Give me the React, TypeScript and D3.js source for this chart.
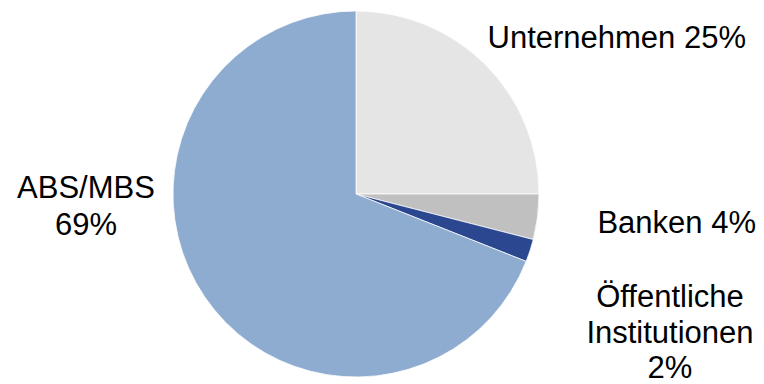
import React from "react";
import * as d3 from "d3";

const categories = ["Unternehmen", "Banken", "Öffentliche Institutionen", "ABS/MBS"];
const values = [25, 4, 2, 69];
const colors = ["#e5e5e5", "#c0c0c0", "#2b4790", "#8eabd0"];

const W = 764;
const H = 384;
const cx = 356;
const cy = 194;
const R = 183;

export default function App() {
  const pie = d3.pie<number>().sort(null).value((d) => d)(values);
  const arc = d3.arc<d3.PieArcDatum<number>>().innerRadius(0).outerRadius(R);
  const fs = 31;
  const font = "'Liberation Sans', Arial, sans-serif";
  return (
    <svg width={W} height={H} style={{ position: "absolute", left: 0, top: 0, background: "#fff" }}>
      <g transform={`translate(${cx},${cy})`}>
        {pie.map((p, i) => (
          <path key={categories[i]} d={arc(p) || ""} fill={colors[i]} stroke="#fff" strokeWidth={0.75} />
        ))}
      </g>
      <g fontFamily={font} fontSize={fs} fill="#000">
        <text x={746} y={48} textAnchor="end">{`${categories[0]} ${values[0]}%`}</text>
        <text x={756} y={233} textAnchor="end">{`${categories[1]} ${values[1]}%`}</text>
        <text x={670} y={307} textAnchor="middle">Öffentliche</text>
        <text x={670} y={343} textAnchor="middle">Institutionen</text>
        <text x={670} y={378} textAnchor="middle">{`${values[2]}%`}</text>
        <text x={86} y={198} textAnchor="middle">{categories[3]}</text>
        <text x={86} y={235} textAnchor="middle">{`${values[3]}%`}</text>
      </g>
    </svg>
  );
}
